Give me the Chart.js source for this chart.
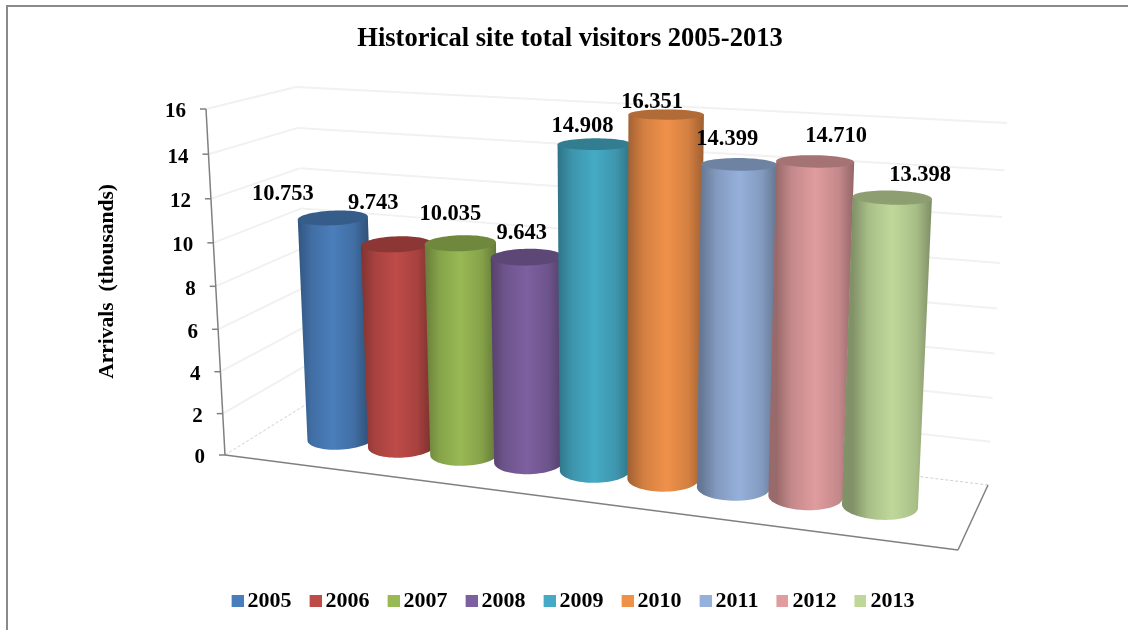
<!DOCTYPE html>
<html>
<head>
<meta charset="utf-8">
<title>Historical site total visitors</title>
<script src="https://cdn.jsdelivr.net/npm/chart.js@4/dist/chart.umd.min.js"></script>
<style>
  html, body { margin: 0; padding: 0; background: #fff; overflow: hidden; }
  #frame { position: absolute; left: 6px; top: 5px; right: 0; bottom: 0; border-left: 2px solid #8a8a8a; border-top: 2px solid #8a8a8a; }
  #holder { position: absolute; left: 0; top: 0; width: 1128px; height: 630px; }
</style>
</head>
<body>
<div id="frame"></div>
<div id="holder"><canvas id="visitorsChart"></canvas></div>
<script>
const years = ['2005', '2006', '2007', '2008', '2009', '2010', '2011', '2012', '2013']
const arrivals = [10.753, 9.743, 10.035, 9.643, 14.908, 16.351, 14.399, 14.710, 13.398]
const barColors = ['#4a7ebb', '#be4b48', '#98b954', '#7d60a0', '#46aac5', '#f0914a', '#95b0da', '#e09c9e', '#bfd89a']
const yTicks = { min: 0, max: 16, stepSize: 2 }

// hand placed in the original, so nudged from the top of each cylinder
const labelNudge = [[-50, -24], [-23, -41], [-10, -29], [-5, -24], [-12, -18], [-14, -12], [-12, -25], [21, -25], [28, -22]]

const FONT = '"Liberation Serif"'

// the 3D box as it appears on the page: bottom left, bottom right, top right, top left
const frontQuad = [[225, 455], [958, 550], [980, 148], [206, 109]]
const backQuad = [[310, 402], [988, 485], [1007, 123], [296, 87]]

// where the bars stand in the box
const barS0 = 0.072
const barS1 = 0.932
const barDepth = 0.5
const barRadiusS = 0.047
const barRadiusW = 0.21
const barHeightFactor = 0.99

function quadPoint(q, s, t) {
  const [x0, y0] = q[0], [x1, y1] = q[1], [x2, y2] = q[2], [x3, y3] = q[3]
  const dx1 = x1 - x2, dx2 = x3 - x2, dx3 = x0 - x1 + x2 - x3
  const dy1 = y1 - y2, dy2 = y3 - y2, dy3 = y0 - y1 + y2 - y3
  const den = dx1 * dy2 - dx2 * dy1
  const g = (dx3 * dy2 - dx2 * dy3) / den
  const h = (dx1 * dy3 - dx3 * dy1) / den
  const w = g * s + h * t + 1
  return {
    x: ((x1 - x0 + g * x1) * s + (x3 - x0 + h * x3) * t + x0) / w,
    y: ((y1 - y0 + g * y1) * s + (y3 - y0 + h * y3) * t + y0) / w
  }
}

function project(s, t, w) {
  const q = frontQuad.map((p, i) => [p[0] + (backQuad[i][0] - p[0]) * w, p[1] + (backQuad[i][1] - p[1]) * w])
  return quadPoint(q, s, t)
}

function shade(hex, f) {
  const n = parseInt(hex.slice(1), 16)
  return `rgb(${(n >> 16) * f | 0}, ${((n >> 8) & 255) * f | 0}, ${(n & 255) * f | 0})`
}

function line(ctx, a, b) {
  ctx.beginPath()
  ctx.moveTo(a.x, a.y)
  ctx.lineTo(b.x, b.y)
  ctx.stroke()
}

function drawWalls(ctx, scale) {
  const area = scale.chart.chartArea
  ctx.lineWidth = 2
  ctx.strokeStyle = '#f1f1f1'
  scale.ticks.forEach(tick => {
    if (tick.value === 0) return
    const t = (area.bottom - scale.getPixelForValue(tick.value)) / area.height
    line(ctx, project(0, t, 0), project(0, t, 1))
    line(ctx, project(0, t, 1), project(1, t, 1))
  })

  // floor, the two far edges are only a faint dashed line
  ctx.lineWidth = 1
  ctx.strokeStyle = '#d0d0d0'
  ctx.setLineDash([3, 2])
  line(ctx, project(0, 0, 0), project(0, 0, 1))
  line(ctx, project(0, 0, 1), project(1, 0, 1))
  ctx.setLineDash([])
  ctx.lineWidth = 1.5
  ctx.strokeStyle = '#808080'
  line(ctx, project(0, 0, 0), project(1, 0, 0))
  line(ctx, project(1, 0, 0), project(1, 0, 1))
  line(ctx, project(0, 0, 0), project(0, 1, 0))

  // ticks and their labels run along the tilted front edge
  ctx.fillStyle = '#000'
  ctx.font = 'bold 21px ' + FONT
  ctx.textAlign = 'right'
  ctx.textBaseline = 'middle'
  scale.ticks.forEach(tick => {
    const t = (area.bottom - scale.getPixelForValue(tick.value)) / area.height
    const p = project(0, t, 0)
    line(ctx, p, { x: p.x - 6, y: p.y })
    ctx.fillText(tick.label, p.x - 20, p.y + 3)
  })
}

function drawCylinder(ctx, s, t, color) {
  const n = 72
  const top = [], bottom = []
  for (let i = 0; i < n; i++) {
    const a = i / n * Math.PI * 2
    const ss = s + barRadiusS * Math.cos(a)
    const ww = barDepth + barRadiusW * Math.sin(a)
    top.push(project(ss, t, ww))
    bottom.push(project(ss, 0, ww))
  }
  const pickEdge = (pts, sign) => pts.reduce((best, p, i) => sign * p.x > sign * pts[best].x ? i : best, 0)
  const rt = pickEdge(top, 1), lt = pickEdge(top, -1)
  const rb = pickEdge(bottom, 1), lb = pickEdge(bottom, -1)

  const grad = ctx.createLinearGradient(top[lt].x, 0, top[rt].x, 0)
  grad.addColorStop(0, shade(color, 0.68))
  grad.addColorStop(0.2, shade(color, 0.88))
  grad.addColorStop(0.5, shade(color, 1))
  grad.addColorStop(0.8, shade(color, 0.88))
  grad.addColorStop(1, shade(color, 0.66))

  ctx.fillStyle = grad
  ctx.beginPath()
  ctx.moveTo(top[lt].x, top[lt].y)
  ctx.lineTo(top[rt].x, top[rt].y)
  for (let i = rb; i !== lb; i = (i - 1 + n) % n) ctx.lineTo(bottom[i].x, bottom[i].y)
  ctx.lineTo(bottom[lb].x, bottom[lb].y)
  ctx.closePath()
  ctx.fill()

  ctx.fillStyle = shade(color, 0.74)
  ctx.beginPath()
  top.forEach((p, i) => i ? ctx.lineTo(p.x, p.y) : ctx.moveTo(p.x, p.y))
  ctx.closePath()
  ctx.fill()
}

const cylinderPlugin = {
  id: 'cylinders',
  beforeDatasetsDraw(chart) {
    const ctx = chart.ctx
    const area = chart.chartArea
    const bars = chart.getDatasetMeta(0).data
    ctx.save()
    drawWalls(ctx, chart.scales.y)

    const tops = bars.map((bar, i) => {
      const s = barS0 + (bar.x - area.left) / area.width * (barS1 - barS0)
      const t = (area.bottom - bar.y) / area.height * barHeightFactor
      drawCylinder(ctx, s, t, barColors[i])
      return project(s, t, barDepth)
    })

    ctx.fillStyle = '#000'
    ctx.font = 'bold 22.5px ' + FONT
    ctx.textAlign = 'center'
    ctx.textBaseline = 'middle'
    tops.forEach((p, i) => {
      ctx.fillText(arrivals[i].toFixed(3), p.x + labelNudge[i][0], p.y + labelNudge[i][1])
    })
    ctx.restore()
    return false
  }
}

// the swatch sits at the right of a wider canvas so it ends up close to its text
function legendSwatch(color) {
  const swatch = document.createElement('canvas')
  swatch.width = 19
  swatch.height = 12
  const c = swatch.getContext('2d')
  c.fillStyle = color
  c.fillRect(7, 0, 12, 12)
  return swatch
}

Chart.defaults.font.family = FONT
Chart.defaults.color = '#000'

new Chart(document.getElementById('visitorsChart'), {
  type: 'bar',
  data: {
    labels: years,
    datasets: [{
      label: 'Arrivals',
      data: arrivals,
      backgroundColor: barColors
    }]
  },
  options: {
    responsive: true,
    maintainAspectRatio: false,
    animation: false,
    layout: { padding: { left: 95, right: 83, top: 0, bottom: 8 } },
    plugins: {
      title: {
        display: true,
        text: 'Historical site total visitors 2005-2013',
        font: { size: 26.5, weight: 'bold' },
        padding: { top: 23, bottom: 52 }
      },
      legend: {
        position: 'bottom',
        fullSize: false,
        labels: {
          usePointStyle: true,
          boxWidth: 5,
          padding: 18,
          font: { size: 22, weight: 'bold' },
          generateLabels: () => years.map((year, i) => ({
            text: year,
            pointStyle: legendSwatch(barColors[i]),
            fillStyle: barColors[i],
            strokeStyle: barColors[i],
            lineWidth: 0,
            datasetIndex: 0
          }))
        }
      },
      tooltip: { enabled: false }
    },
    scales: {
      x: {
        grid: { display: false },
        border: { display: false },
        ticks: { display: false },
        afterFit(scale) { scale.height = 116 }
      },
      y: {
        min: yTicks.min,
        max: yTicks.max,
        ticks: { stepSize: yTicks.stepSize, display: false },
        grid: { display: false },
        border: { display: false },
        afterFit(scale) { scale.width = 6 },
        title: {
          display: true,
          text: 'Arrivals  (thousands)',
          font: { size: 21.5, weight: 'bold' },
          padding: 0
        }
      }
    }
  },
  plugins: [cylinderPlugin]
})
</script>
</body>
</html>
